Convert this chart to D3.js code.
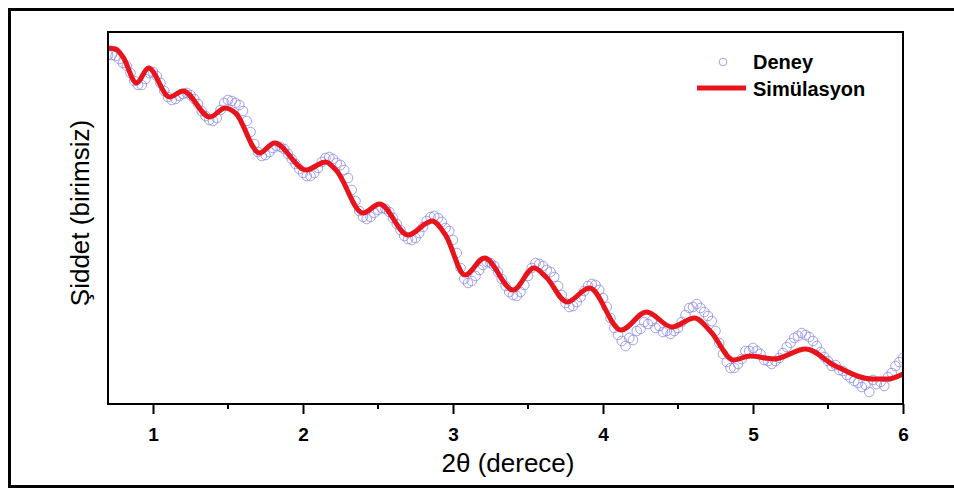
<!DOCTYPE html>
<html>
<head>
<meta charset="utf-8">
<script src="https://cdn.jsdelivr.net/npm/d3@7"></script>
<style>
    body { margin: 0; background: #fff; overflow: hidden; }
    svg { display: block; }
    svg text { font-family: "Liberation Sans", Arial, sans-serif; fill: #000; }
    .tickLabel { font-weight: bold; font-size: 19px; }
    .axisTitle { font-size: 26px; }
    .legendText { font-weight: bold; font-size: 20px; }
</style>
</head>
<body>
<svg id="chart"></svg>
<script>
// simulation curve (2theta, intensity in arbitrary units)
var simAngle = [0.70, 0.75, 0.80, 0.89, 0.97, 1.11, 1.20, 1.38, 1.48, 1.55,
                1.71, 1.81, 2.02, 2.15, 2.22, 2.40, 2.51, 2.70, 2.86, 2.95,
                3.08, 3.21, 3.40, 3.54, 3.62, 3.76, 3.91, 4.12, 4.29, 4.46,
                4.61, 4.72, 4.87, 4.98, 5.14, 5.35, 5.55, 5.80, 5.90, 6.00];
var simIntensity = [356, 355, 347, 321, 336, 307, 313, 287, 296, 291,
                    251, 261, 234, 242, 234, 191, 200, 169, 183, 169,
                    129, 146, 114, 136, 127, 102, 116, 74, 92, 77,
                    86, 72, 44, 48, 45, 55, 38, 25, 25, 30];

// measured data, sampled every 0.025 deg from 0.70
var expStart = 0.70;
var expStep = 0.025;
var expIntensity = [
    349, 349, 348, 345, 341, 338, 331, 323, 319, 319,
    325, 331, 332, 328, 321, 313, 307, 304, 305, 308,
    310, 311, 309, 305, 300, 293, 288, 284, 283, 286,
    294, 301, 304, 303, 301, 299, 293, 283, 272, 260,
    252, 248, 249, 252, 256, 258, 257, 255, 250, 245,
    240, 235, 231, 228, 228, 231, 236, 242, 246, 247,
    245, 241, 239, 234, 226, 214, 203, 193, 187, 185,
    187, 191, 194, 196, 195, 192, 186, 180, 174, 168,
    165, 164, 166, 171, 177, 183, 187, 188, 186, 182,
    176, 173, 164, 151, 136, 125, 121, 123, 128, 134,
    139, 142, 141, 138, 132, 125, 118, 112, 109, 108,
    112, 119, 128, 136, 141, 140, 138, 134, 132, 127,
    118, 109, 101, 97, 98, 102, 107, 113, 118, 120,
    119, 114, 106, 97, 86, 76, 69, 63, 58, 66,
    64, 73, 75, 82, 80, 83, 76, 78, 72, 73,
    70, 73, 76, 82, 89, 96, 97, 100, 96, 92,
    88, 83, 73, 61, 50, 42, 36, 36, 40, 45,
    53, 53, 56, 53, 50, 44, 43, 40, 43, 46,
    51, 57, 61, 66, 68, 71, 69, 67, 63, 58,
    52, 47, 43, 38, 39, 34, 33, 29, 26, 23,
    21, 17, 19, 12, 24, 20, 22, 18, 27, 31,
    38, 42, 46];

var xTicks = [1, 2, 3, 4, 5, 6];
var xMinorTicks = [1.5, 2.5, 3.5, 4.5, 5.5];
var legendLabels = ["Deney", "Simülasyon"];

var width = 954, height = 489;
var margin = {top: 32, right: 51, bottom: 85, left: 108};
var plotW = width - margin.left - margin.right;
var plotH = height - margin.top - margin.bottom;

var svg = d3.select("#chart")
    .attr("width", width)
    .attr("height", height);

// outer frame: left, top and bottom sides only (cut at the right)
svg.append("path")
    .attr("d", "M" + width + ",9.5H9.5V486.5H" + width)
    .attr("fill", "none")
    .attr("stroke", "#000")
    .attr("stroke-width", 3);

var x = d3.scaleLinear().domain([0.7, 6]).range([0, plotW]);
var y = d3.scaleLinear().domain([0, 372]).range([plotH, 0]);

var g = svg.append("g").attr("transform", "translate(" + margin.left + "," + margin.top + ")");

g.append("clipPath").attr("id", "plotClip")
    .append("rect").attr("width", plotW).attr("height", plotH);

var expData = expIntensity.map(function(v, i) {
    return {angle: expStart + i * expStep, value: v};
});
var simData = simAngle.map(function(a, i) {
    return {angle: a, value: simIntensity[i]};
});

var marks = g.append("g").attr("clip-path", "url(#plotClip)");

marks.selectAll("circle.exp")
    .data(expData)
    .enter()
    .append("circle")
    .attr("class", "exp")
    .attr("cx", function(d) { return x(d.angle); })
    .attr("cy", function(d) { return y(d.value); })
    .attr("r", 4.8)
    .attr("fill", "none")
    .attr("stroke", "#8a8ae8")
    .attr("stroke-width", 0.8);

var line = d3.line()
    .x(function(d) { return x(d.angle); })
    .y(function(d) { return y(d.value); })
    .curve(d3.curveMonotoneX);

marks.append("path")
    .attr("d", line(simData))
    .attr("fill", "none")
    .attr("stroke", "#e8141b")
    .attr("stroke-width", 5)
    .attr("stroke-linejoin", "round");

// plot frame
g.append("rect")
    .attr("width", plotW)
    .attr("height", plotH)
    .attr("fill", "none")
    .attr("stroke", "#000")
    .attr("stroke-width", 2);

// x axis ticks
var xAxis = d3.axisBottom(x)
    .tickValues(xTicks)
    .tickSize(10)
    .tickPadding(14)
    .tickFormat(d3.format("d"));
var ax = g.append("g")
    .attr("transform", "translate(0," + plotH + ")")
    .call(xAxis);
ax.select(".domain").remove();
ax.selectAll(".tick line").attr("stroke", "#000").attr("stroke-width", 2);
ax.selectAll(".tick text").attr("class", "tickLabel").attr("font-family", null).attr("font-size", null);

g.append("g")
    .attr("transform", "translate(0," + plotH + ")")
    .selectAll("line")
    .data(xMinorTicks)
    .enter()
    .append("line")
    .attr("x1", function(d) { return x(d); })
    .attr("x2", function(d) { return x(d); })
    .attr("y1", 0)
    .attr("y2", 5)
    .attr("stroke", "#000")
    .attr("stroke-width", 2);

// axis titles
svg.append("text")
    .attr("class", "axisTitle")
    .attr("x", 508)
    .attr("y", 472)
    .attr("text-anchor", "middle")
    .text("2θ (derece)");

svg.append("text")
    .attr("class", "axisTitle")
    .attr("font-size", "27px")
    .attr("transform", "translate(89,213) rotate(-90)")
    .attr("text-anchor", "middle")
    .text("Şiddet (birimsiz)");

// legend
var legend = svg.append("g").attr("transform", "translate(697,0)");
legend.append("circle")
    .attr("cx", 26)
    .attr("cy", 62)
    .attr("r", 3.8)
    .attr("fill", "none")
    .attr("stroke", "#8a8ae8")
    .attr("stroke-width", 0.8);
legend.append("line")
    .attr("x1", 0)
    .attr("x2", 49)
    .attr("y1", 88)
    .attr("y2", 88)
    .attr("stroke", "#e8141b")
    .attr("stroke-width", 5);
legend.selectAll("text.legendText")
    .data(legendLabels)
    .enter()
    .append("text")
    .attr("class", "legendText")
    .attr("x", 56)
    .attr("y", function(d, i) { return 69 + i * 27; })
    .text(function(d) { return d; });
</script>
</body>
</html>
